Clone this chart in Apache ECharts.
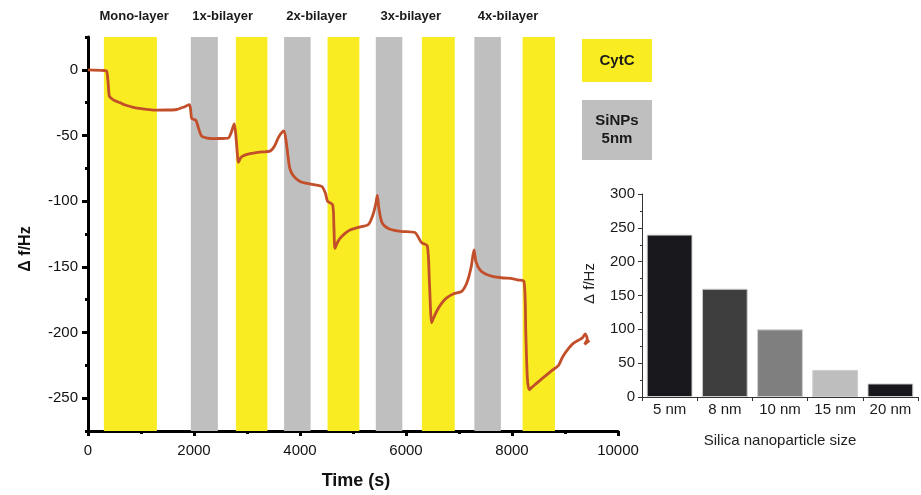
<!DOCTYPE html>
<html><head><meta charset="utf-8">
<script src="https://cdn.jsdelivr.net/npm/echarts@6/dist/echarts.min.js"></script>
<style>html,body{margin:0;padding:0;background:#fff}#c{width:921px;height:495px}</style>
</head><body><div id="c"></div>
<script>
// ---- data ----
const times = [0,300,352,380,402,450,520,604,700,855,1000,1150,1296,1500,1673,1800,1911,1935,1956,2000,2038,2090,2145,2250,2364,2500,2648,2700,2740,2760,2790,2820,2837,2880,2931,3020,3120,3280,3434,3520,3592,3650,3698,3740,3780,3811,3880,4000,4200,4377,4420,4480,4520,4616,4640,4660,4700,4755,4850,4943,5100,5289,5380,5430,5459,5490,5541,5600,5698,5900,6170,6240,6296,6402,6440,6484,6520,6579,6667,6767,6900,7051,7150,7230,7283,7320,7396,7500,7647,7800,8025,8100,8226,8260,8290,8327,8380,8434,8600,8750,8874,8950,9032,9150,9283,9330,9380,9420,9370,9430,9460];
const freqs = [0,-0.5,-1,-10,-20,-22,-23.8,-25,-26.8,-28.5,-29.6,-30.3,-30.7,-30.6,-30.2,-28.5,-26.5,-30,-37,-37.8,-38.5,-45,-50.5,-52,-52.4,-52.3,-51.9,-48,-43,-41,-50,-65,-70.5,-67,-65.5,-64.2,-63.4,-62.5,-61.9,-58,-51.6,-48,-46.5,-55,-68,-75.5,-81,-85,-87,-88.3,-89,-94,-100,-102.7,-120,-136,-132,-128.4,-124.5,-122,-120,-117.8,-110,-102,-95.7,-106,-115.8,-119,-121.4,-123,-123.9,-128,-131.7,-134,-160,-192.6,-189,-183.8,-178,-173.7,-170.5,-168.7,-162,-150,-137.2,-146,-152.3,-155.5,-157.4,-158.3,-159.1,-160,-161.1,-200,-235,-243.7,-241.5,-239.7,-234,-229,-225.3,-219,-214,-208.5,-205.2,-204,-201,-205,-209,-207,-206];
const cytcBands = [[300,1300],[2790,3385],[4520,5120],[6300,6920],[8200,8810]];
const sinpBands = [[1940,2450],[3700,4200],[5430,5930],[7290,7790]];
const layerNames = ['Mono-layer','1x-bilayer','2x-bilayer','3x-bilayer','4x-bilayer'];
const layerLabelTimes = [870,2540,4315,6090,7925];
const xTickLabels = [0,2000,4000,6000,8000,10000];
const yTickLabels = [0,-50,-100,-150,-200,-250];
const sizeCats = ['5 nm','8 nm','10 nm','15 nm','20 nm'];
const sizeShift = [240,160,100,40,20];
const insetTicks = [0,50,100,150,200,250,300];

// ---- styles ----
const FONT = '"Liberation Sans", Arial, sans-serif';
const YELLOW = '#F9EC22', GRAY = '#BFBFBF', LINE = '#C24F2A';
const barColors = ['#18171C','#3E3E3E','#7F7F7F','#BEBEBE','#18171C'];

const chart = echarts.init(document.getElementById('c'), null, {renderer:'canvas'});
const areaData = cytcBands.map(b => [{xAxis:b[0], itemStyle:{color:YELLOW}},{xAxis:b[1]}])
  .concat(sinpBands.map(b => [{xAxis:b[0], itemStyle:{color:GRAY}},{xAxis:b[1]}]));

const option = {
  animation:false,
  textStyle:{fontFamily:FONT},
  grid:[
    {left:88, right:303, top:37, bottom:61},
    {left:642, right:3, top:194, bottom:98}
  ],
  xAxis:[
    {type:'value', gridIndex:0, min:0, max:10000, interval:2000,
     name:'Time (s)', nameLocation:'middle', nameGap:41,
     nameTextStyle:{fontWeight:'bold', fontSize:18, color:'#111', fontFamily:FONT, padding:[0,0,0,6]},
     axisLine:{onZero:false, lineStyle:{color:'#000', width:3}},
     axisTick:{show:true, length:5, lineStyle:{color:'#000', width:3}},
     minorTick:{show:true, splitNumber:2, length:3, lineStyle:{color:'#000', width:3}},
     splitLine:{show:false},
     axisLabel:{fontSize:15, color:'#111', margin:12, fontFamily:FONT,
       formatter: v => xTickLabels.indexOf(v) >= 0 ? String(v) : ''}},
    {type:'category', gridIndex:1, data:sizeCats,
     name:'Silica nanoparticle size', nameLocation:'middle', nameGap:36,
     nameTextStyle:{fontSize:15, color:'#222', fontFamily:FONT},
     axisLine:{onZero:false, lineStyle:{color:'#333', width:1}},
     axisTick:{show:true, length:4, inside:false, lineStyle:{color:'#333'}},
     axisLabel:{fontSize:15, color:'#1a1a1a', margin:5, interval:0, fontFamily:FONT}}
  ],
  yAxis:[
    {type:'value', gridIndex:0, min:-275, max:25, interval:25,
     name:'Δ f/Hz', nameLocation:'middle', nameGap:54, nameRotate:90,
     nameTextStyle:{fontWeight:'bold', fontSize:16, color:'#111', fontFamily:FONT, padding:[0,30,0,0]},
     axisLine:{show:true, onZero:false, lineStyle:{color:'#000', width:3}},
     axisTick:{show:true, length:3, lineStyle:{color:'#000', width:3}},
     splitLine:{show:false},
     axisLabel:{fontSize:15, color:'#111', margin:10, fontFamily:FONT,
       formatter: v => yTickLabels.indexOf(v) >= 0 ? String(v) : ''}},
    {type:'value', gridIndex:0, min:-275, max:25, interval:25, position:'left',
     axisLine:{show:false, onZero:false}, splitLine:{show:false}, axisLabel:{show:false},
     axisTick:{show:true, length:6, customValues:yTickLabels, lineStyle:{color:'#000', width:3}}},
    {type:'value', gridIndex:1, min:0, max:300, interval:50,
     name:'Δ f/Hz', nameLocation:'middle', nameGap:45, nameRotate:90,
     nameTextStyle:{fontSize:15, color:'#222', fontFamily:FONT, padding:[0,0,0,24]},
     axisLine:{show:true, onZero:false, lineStyle:{color:'#333', width:1}},
     axisTick:{show:true, length:4, lineStyle:{color:'#333'}},
     minorTick:{show:true, splitNumber:2, length:2, lineStyle:{color:'#333'}},
     splitLine:{show:false},
     axisLabel:{fontSize:15, color:'#1a1a1a', margin:7, fontFamily:FONT,
       formatter: v => insetTicks.indexOf(v) >= 0 ? String(v) : ''}}
  ],
  series:[
    {type:'line', xAxisIndex:0, yAxisIndex:0, data:times.map((t,i)=>[t,freqs[i]]),
     showSymbol:false, symbol:'none', smooth:0.25, smoothMonotone:null,
     lineStyle:{color:LINE, width:2.8}, z:5,
     markArea:{silent:true, data:areaData}},
    {type:'bar', xAxisIndex:1, yAxisIndex:2, barCategoryGap:'17%',
     data:sizeShift.map((v,i)=>({value:v, itemStyle:{color:barColors[i], borderColor:'#cfcfcf', borderWidth:1}}))}
  ],
  graphic:[
    {type:'rect', left:582, top:39, shape:{width:70, height:43}, style:{fill:YELLOW}},
    {type:'text', x:617, y:61, style:{text:'CytC', font:'bold 15px '+FONT, fill:'#1a1a1a', align:'center', verticalAlign:'middle'}},
    {type:'rect', left:582, top:100, shape:{width:70, height:60}, style:{fill:GRAY}},
    {type:'text', x:617, y:130, style:{text:'SiNPs\n5nm', font:'bold 15px '+FONT, fill:'#1a1a1a', align:'center', verticalAlign:'middle', lineHeight:18}}
  ]
};
chart.setOption(option);

// top layer labels positioned through the x scale
const labelGraphics = layerNames.map((name,i)=>{
  const px = chart.convertToPixel({xAxisIndex:0}, layerLabelTimes[i]);
  return {type:'text', x:px, y:16, style:{text:name, font:'bold 13px '+FONT, fill:'#1a1a1a', align:'center', verticalAlign:'middle'}};
});
chart.setOption({graphic: option.graphic.concat(labelGraphics)});
</script>
</body></html>
